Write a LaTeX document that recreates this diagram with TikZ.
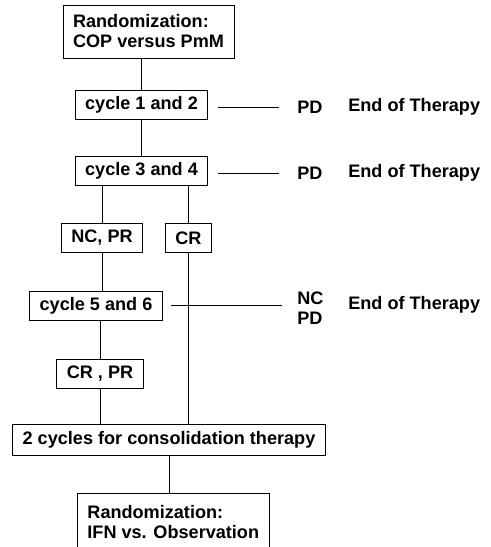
\documentclass[tikz,border=0pt]{standalone}
\usepackage{fontspec}
\setmainfont{Liberation Sans}
\begin{document}
\begin{tikzpicture}[every node/.style={font=\fontsize{10.3}{11.4}\selectfont\bfseries},
  box/.style={draw,line width=0.5pt,inner xsep=0.2cm,inner ysep=0pt,minimum height=0.58cm},
  lbl/.style={anchor=west,inner sep=0pt,align=left},
  link/.style={draw,line width=0.4pt}]
\useasboundingbox (0,0) rectangle (9.82,10.94);
\clip (0,0) rectangle (9.82,10.94);
\node[box,align=left,minimum height=1.06cm] (rand) at (2.97,10.31) {Randomization:\\COP versus PmM};
\node[box] (cyc12) at (2.83,8.84) {cycle 1 and 2};
\node[box] (cyc34) at (2.83,7.52) {cycle 3 and 4};
\node[box] (ncpr) at (2.04,6.18) {NC, PR};
\node[box] (cr) at (3.77,6.18) {CR};
\node[box] (cyc56) at (1.92,4.83) {cycle 5 and 6};
\node[box] (crpr) at (2.00,3.47) {CR , PR};
\node[box,minimum height=0.62cm] (consol) at (3.38,2.15) {2 cycles for consolidation therapy};
\node[box,align=left,anchor=north west,minimum height=1.16cm] (rand2) at (1.54,1.08) {Randomization:\\IFN vs. Observation};
% main path
\path[link] (cyc12.north |- rand.south) -- (cyc12.north); \path[link] (cyc12.south) -- (cyc34.north);
\path[link] (ncpr.north |- cyc34.south) -- (ncpr.north); \path[link] (cr.north |- cyc34.south) -- (cr.north);
\path[link] (ncpr.south) -- (ncpr.south |- cyc56.north); \path[link] (crpr.north |- cyc56.south) -- (crpr.north);
\path[link] (crpr.south) -- (crpr.south |- consol.north); \path[link] (cr.south) -- (cr.south |- consol.north);
\path[link] (consol.south) -- (consol.south |- rand2.north);
% off study
\node[lbl] (pd1) at (5.94,8.80) {PD}; \node[lbl] (end1) at (6.96,8.80) {End of Therapy};
\node[lbl] (pd2) at (5.94,7.48) {PD}; \node[lbl] (end2) at (6.96,7.48) {End of Therapy};
\node[lbl] (ncpd) at (5.94,4.78) {NC\\PD}; \node[lbl] (end3) at (6.96,4.84) {End of Therapy};
\path[link,shorten <=0.2cm,shorten >=0.36cm] (cyc12.east |- pd1.west) -- (pd1.west);
\path[link,shorten <=0.2cm,shorten >=0.36cm] (cyc34.east |- pd2.west) -- (pd2.west);
\path[link,shorten <=0.16cm,shorten >=0.3cm] (cyc56.east) -- (cyc56.east -| ncpd.west);
\end{tikzpicture}
\end{document}
